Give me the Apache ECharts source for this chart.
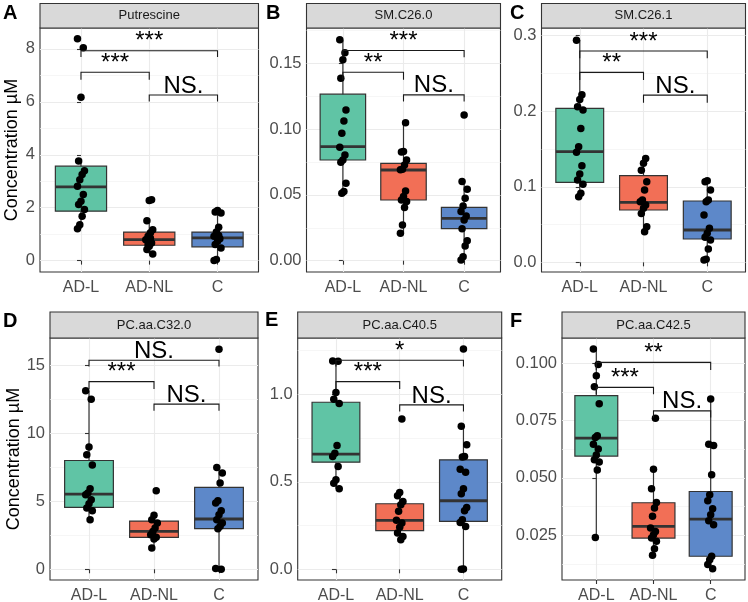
<!DOCTYPE html>
<html><head><meta charset="utf-8">
<script src="https://cdn.jsdelivr.net/npm/echarts@6/dist/echarts.min.js"></script>
<style>html,body{margin:0;padding:0;background:#fff}#c{width:748px;height:602px}</style>
</head><body><div id="c"></div>
<script>
// ---------- DATA ----------
const categories = ['AD-L', 'AD-NL', 'C'];
const yTitle = 'Concentration µM';

// Panel A – Putrescine
const titleA = 'Putrescine';
const statsA = [[1.20, 1.87, 2.79, 3.57, 3.76], [0.25, 0.58, 0.79, 1.08, 1.51], [0.00, 0.52, 0.86, 1.08, 1.89]];
const ptsA_ADL = [8.38, 8.04, 6.17, 3.76, 3.40, 3.25, 3.06, 2.81, 2.50, 2.24, 2.12, 1.93, 1.68, 1.36, 1.20];
const ptsA_ADNL = [2.30, 2.27, 1.51, 1.17, 1.05, 0.92, 0.79, 0.67, 0.54, 0.42, 0.25, 0.85, 0.60];
const ptsA_C = [1.89, 1.84, 1.80, 1.26, 1.08, 0.92, 0.83, 0.73, 0.61, 0.48, 0.95, 0.04, 0.00];
const bracketsA = [[0, 2, 7.93, 7.69], [0, 1, 7.12, 6.83], [1, 2, 6.26, 6.01]];
const bracketLabelsA = ['***', '***', 'NS.'];
const yMajorA = [0, 2, 4, 6, 8];
const yMinorA = [1, 3, 5, 7];

// Panel B – SM.C26.0
const titleB = 'SM.C26.0';
const statsB = [[0.0512, 0.0765, 0.0867, 0.1265, 0.1678], [0.0208, 0.0461, 0.0689, 0.0740, 0.1049], [0.0005, 0.0243, 0.0322, 0.0405, 0.0601]];
const ptsB_ADL = [0.1678, 0.1580, 0.1526, 0.1386, 0.1145, 0.1062, 0.0968, 0.0862, 0.0803, 0.0765, 0.0748, 0.0588, 0.0525, 0.0512];
const ptsB_ADNL = [0.1049, 0.0829, 0.0825, 0.0765, 0.0727, 0.0694, 0.0690, 0.0530, 0.0487, 0.0461, 0.0449, 0.0405, 0.0271, 0.0208];
const ptsB_C = [0.1107, 0.0601, 0.0542, 0.0474, 0.0416, 0.0373, 0.0340, 0.0309, 0.0243, 0.0152, 0.0112, 0.0030, 0.0005];
const bracketsB = [[0, 2, 0.1597, 0.1546], [0, 1, 0.1432, 0.1374], [1, 2, 0.1260, 0.1209]];
const bracketLabelsB = ['***', '**', 'NS.'];
const yMajorB = [0, 0.05, 0.10, 0.15];
const yMinorB = [0.025, 0.075, 0.125, 0.175];

// Panel C – SM.C26.1
const titleC = 'SM.C26.1';
const statsC = [[0.0869, 0.1059, 0.1465, 0.2038, 0.2940], [0.0406, 0.0693, 0.0794, 0.1147, 0.1376], [0.0030, 0.0309, 0.0428, 0.0812, 0.1080]];
const ptsC_ADL = [0.2940, 0.2220, 0.2157, 0.2060, 0.2016, 0.1773, 0.1530, 0.1456, 0.1280, 0.1169, 0.1090, 0.1032, 0.0913, 0.0869];
const ptsC_ADNL = [0.1376, 0.1310, 0.1220, 0.1067, 0.0957, 0.0825, 0.0803, 0.0759, 0.0715, 0.0648, 0.0472, 0.0406];
const ptsC_C = [0.1080, 0.1067, 0.0957, 0.0825, 0.0803, 0.0626, 0.0450, 0.0384, 0.0331, 0.0296, 0.0176, 0.0040, 0.0030];
const bracketsC = [[0, 2, 0.2797, 0.2700], [0, 1, 0.2514, 0.2413], [1, 2, 0.2214, 0.2113]];
const bracketLabelsC = ['***', '**', 'NS.'];
const yMajorC = [0, 0.1, 0.2, 0.3];
const yMinorC = [0.05, 0.15, 0.25];

// Panel D – PC.aa.C32.0
const titleD = 'PC.aa.C32.0';
const statsD = [[3.65, 4.56, 5.54, 8.01, 13.14], [1.57, 2.35, 2.79, 3.55, 3.97], [0.00, 2.99, 3.70, 6.03, 7.50]];
const ptsD_ADL = [13.14, 12.52, 9.00, 8.43, 7.67, 5.93, 5.61, 5.49, 5.12, 4.83, 4.51, 4.31, 3.65];
const ptsD_ADNL = [5.78, 3.97, 3.65, 3.41, 3.04, 2.79, 2.55, 2.35, 2.23, 1.57];
const ptsD_C = [16.20, 7.50, 7.08, 6.35, 5.05, 4.88, 4.31, 4.02, 3.65, 3.41, 3.16, 2.99, 0.05, 0.00];
const bracketsD = [[0, 2, 15.39, 14.93], [0, 1, 13.82, 13.28], [1, 2, 12.16, 11.67]];
const bracketLabelsD = ['NS.', '***', 'NS.'];
const yMajorD = [0, 5, 10, 15];
const yMinorD = [2.5, 7.5, 12.5];

// Panel E – PC.aa.C40.5
const titleE = 'PC.aa.C40.5';
const statsE = [[0.460, 0.612, 0.658, 0.954, 1.190], [0.169, 0.2205, 0.2795, 0.3745, 0.439], [0.000, 0.2738, 0.3916, 0.6255, 0.817]];
const ptsE_ADL = [1.190, 1.188, 1.010, 0.971, 0.947, 0.707, 0.663, 0.644, 0.587, 0.511, 0.492, 0.460];
const ptsE_ADNL = [0.859, 0.439, 0.420, 0.388, 0.369, 0.331, 0.280, 0.264, 0.240, 0.207, 0.188, 0.169];
const ptsE_C = [1.258, 0.817, 0.711, 0.644, 0.641, 0.572, 0.555, 0.460, 0.4316, 0.3536, 0.3346, 0.283, 0.268, 0.245, 0.002, 0.000];
const bracketsE = [[0, 2, 1.194, 1.158], [0, 1, 1.072, 1.030], [1, 2, 0.939, 0.901]];
const bracketLabelsE = ['*', '***', 'NS.'];
const yMajorE = [0, 0.5, 1.0];
const yMinorE = [0.25, 0.75, 1.25];

// Panel F – PC.aa.C42.5
const titleF = 'PC.aa.C42.5';
const statsF = [[0.0241, 0.0595, 0.0673, 0.0858, 0.1061], [0.0163, 0.0238, 0.0289, 0.0392, 0.0538], [0.0105, 0.0159, 0.0321, 0.0441, 0.0844]];
const ptsF_ADL = [0.1061, 0.0994, 0.0945, 0.0897, 0.0823, 0.0684, 0.0676, 0.0647, 0.0626, 0.0600, 0.0579, 0.0569, 0.0535, 0.0241];
const ptsF_ADNL = [0.0760, 0.0538, 0.0453, 0.0393, 0.0369, 0.0333, 0.0282, 0.0267, 0.0253, 0.0238, 0.0224, 0.0192, 0.0163];
const ptsF_C = [0.0844, 0.0647, 0.0641, 0.0514, 0.0427, 0.0401, 0.0366, 0.0340, 0.0314, 0.0296, 0.0159, 0.0144, 0.0123, 0.0105];
const bracketsF = [[0, 2, 0.1003, 0.0970], [0, 1, 0.0894, 0.0864], [1, 2, 0.0792, 0.0763]];
const bracketLabelsF = ['**', '***', 'NS.'];
const yMajorF = [0.025, 0.050, 0.075, 0.100];
const yMinorF = [0.0125, 0.0375, 0.0625, 0.0875];

// ---------- LAYOUT / STYLE ----------
const groupColors = ['#60c4a5', '#f26f56', '#5d88c9'];
const FONT = '"Liberation Sans", Arial, Helvetica, sans-serif';
const panels = [
  {letter: 'A', title: titleA, stats: statsA, pts: [ptsA_ADL, ptsA_ADNL, ptsA_C], br: bracketsA, brLab: bracketLabelsA, major: yMajorA, minor: yMinorA, dec: 0, name: yTitle,
   left: 40, top: 28, width: 218.5, height: 244, min: -0.43, max: 8.79, stripTop: 3.5, letterX: 3, letterY: 3},
  {letter: 'B', title: titleB, stats: statsB, pts: [ptsB_ADL, ptsB_ADNL, ptsB_C], br: bracketsB, brLab: bracketLabelsB, major: yMajorB, minor: yMinorB, dec: 2, name: '',
   left: 306.5, top: 28, width: 194, height: 244, min: -0.0086, max: 0.1768, stripTop: 3.5, letterX: 266, letterY: 3},
  {letter: 'C', title: titleC, stats: statsC, pts: [ptsC_ADL, ptsC_ADNL, ptsC_C], br: bracketsC, brLab: bracketLabelsC, major: yMajorC, minor: yMinorC, dec: 1, name: '',
   left: 541.5, top: 28, width: 204, height: 244, min: -0.0128, max: 0.3102, stripTop: 3.5, letterX: 510, letterY: 3},
  {letter: 'D', title: titleD, stats: statsD, pts: [ptsD_ADL, ptsD_ADNL, ptsD_C], br: bracketsD, brLab: bracketLabelsD, major: yMajorD, minor: yMinorD, dec: 0, name: yTitle,
   left: 50, top: 338, width: 208, height: 242, min: -0.79, max: 17.03, stripTop: 312, letterX: 3, letterY: 311},
  {letter: 'E', title: titleE, stats: statsE, pts: [ptsE_ADL, ptsE_ADNL, ptsE_C], br: bracketsE, brLab: bracketLabelsE, major: yMajorE, minor: yMinorE, dec: 1, name: '',
   left: 297.7, top: 338, width: 204, height: 242, min: -0.061, max: 1.321, stripTop: 312, letterX: 265, letterY: 310},
  {letter: 'F', title: titleF, stats: statsF, pts: [ptsF_ADL, ptsF_ADNL, ptsF_C], br: bracketsF, brLab: bracketLabelsF, major: yMajorF, minor: yMinorF, dec: 3, name: '',
   left: 562, top: 338, width: 183, height: 242, min: 0.00557, max: 0.1109, stripTop: 312, letterX: 510, letterY: 311}
];

// deterministic small horizontal jitter (category units)
const jit = i => (((i * 5) % 7) - 3) * 0.017;

const grids = [], xAxes = [], yAxes = [], series = [], graphics = [];

panels.forEach((p, k) => {
  grids.push({left: p.left, top: p.top, width: p.width, height: p.height, show: true,
    borderColor: '#333333', borderWidth: 1.1, backgroundColor: '#ffffff', containLabel: false, outerBoundsMode: 'none'});
  xAxes.push({type: 'value', gridIndex: k, min: -0.6, max: 2.6,
    axisLine: {show: false},
    axisTick: {show: true, customValues: [0, 1, 2], length: 4, lineStyle: {color: '#333', width: 1.1}},
    axisLabel: {customValues: [0, 1, 2], formatter: v => categories[Math.round(v)] || '', color: '#4d4d4d',
      fontSize: 16, fontFamily: FONT, margin: 8},
    splitLine: {show: true, lineStyle: {color: '#ebebeb', width: 1.1}}});
  yAxes.push({type: 'value', gridIndex: k, min: p.min, max: p.max, position: 'left',
    name: p.name, nameLocation: 'middle', nameGap: 19,
    nameTextStyle: {fontSize: 18, color: '#000', fontFamily: FONT},
    axisLine: {show: false},
    axisTick: {show: true, customValues: p.major, length: 4, lineStyle: {color: '#333', width: 1.1}},
    axisLabel: {customValues: p.major, formatter: v => v.toFixed(p.dec), color: '#4d4d4d',
      fontSize: 16.5, fontFamily: FONT, margin: 5},
    splitLine: {show: true, lineStyle: {color: '#ebebeb', width: 1.1}}});
  yAxes.push({type: 'value', gridIndex: k, min: p.min, max: p.max, position: 'right',
    axisLine: {show: false}, axisLabel: {show: false},
    axisTick: {show: false, customValues: p.minor},
    splitLine: {show: true, lineStyle: {color: '#f2f2f2', width: 0.7}}});
  const yi = 2 * k;

  // boxes
  series.push({type: 'custom', xAxisIndex: k, yAxisIndex: yi, z: 2, silent: true,
    data: p.stats.map((s, g) => [g].concat(s)),
    encode: {x: 0, y: [1, 2, 3, 4, 5]},
    renderItem: (params, api) => {
      const x = api.value(0);
      const lo = api.coord([x, api.value(1)]);
      const q1 = api.coord([x, api.value(2)]);
      const md = api.coord([x, api.value(3)]);
      const q3 = api.coord([x, api.value(4)]);
      const hi = api.coord([x, api.value(5)]);
      const w = api.size([0.75, 0])[0];
      const cx = lo[0];
      return {type: 'group', children: [
        {type: 'line', shape: {x1: cx, y1: lo[1], x2: cx, y2: hi[1]}, style: {stroke: '#333', lineWidth: 1.2}},
        {type: 'rect', shape: {x: cx - w / 2, y: q3[1], width: w, height: q1[1] - q3[1]},
          style: {fill: groupColors[params.dataIndex], stroke: '#333', lineWidth: 1.2}},
        {type: 'line', shape: {x1: cx - w / 2, y1: md[1], x2: cx + w / 2, y2: md[1]}, style: {stroke: '#333', lineWidth: 2.8}}
      ]};
    }});

  // points
  const pts = [];
  p.pts.forEach((arr, g) => arr.forEach((v, i) => pts.push([g + jit(i + g), v])));
  series.push({type: 'scatter', xAxisIndex: k, yAxisIndex: yi, z: 3, silent: true,
    symbolSize: 7.5, itemStyle: {color: '#000', opacity: 1}, data: pts});

  // significance brackets
  series.push({type: 'custom', xAxisIndex: k, yAxisIndex: yi, z: 4, silent: true,
    data: p.br, encode: {x: [0, 1], y: [2, 3]},
    renderItem: (params, api) => {
      const x1 = api.value(0), x2 = api.value(1), y = api.value(2), t = api.value(3);
      const a = api.coord([x1, t]), b = api.coord([x1, y]), c = api.coord([x2, y]), d = api.coord([x2, t]);
      return {type: 'group', children: [
        {type: 'polyline', shape: {points: [a, b, c, d]}, style: {stroke: '#1a1a1a', lineWidth: 1.1, fill: null}},
        {type: 'text', style: {text: p.brLab[params.dataIndex], x: (b[0] + c[0]) / 2, y: b[1] + 3,
          align: 'center', verticalAlign: 'bottom', fontSize: 24, fontFamily: FONT, fill: '#000'}}
      ]};
    }});

  // strip
  graphics.push({type: 'rect', shape: {x: p.left, y: p.stripTop, width: p.width, height: p.top - p.stripTop},
    style: {fill: '#d9d9d9', stroke: '#333333', lineWidth: 1.1}, z: 10});
  graphics.push({type: 'text', style: {text: p.title, x: p.left + p.width / 2, y: (p.top + p.stripTop) / 2,
    align: 'center', verticalAlign: 'middle', fontSize: 13, fontFamily: FONT, fill: '#1a1a1a'}, z: 11});
  graphics.push({type: 'text', style: {text: p.letter, x: p.letterX, y: p.letterY, align: 'left', verticalAlign: 'top',
    fontSize: 20, fontWeight: 'bold', fontFamily: FONT, fill: '#000'}, z: 11});
});

const chart = echarts.init(document.getElementById('c'), null, {renderer: 'canvas'});
chart.setOption({
  animation: false,
  backgroundColor: '#ffffff',
  grid: grids, xAxis: xAxes, yAxis: yAxes, series: series, graphic: graphics
});
</script></body></html>
